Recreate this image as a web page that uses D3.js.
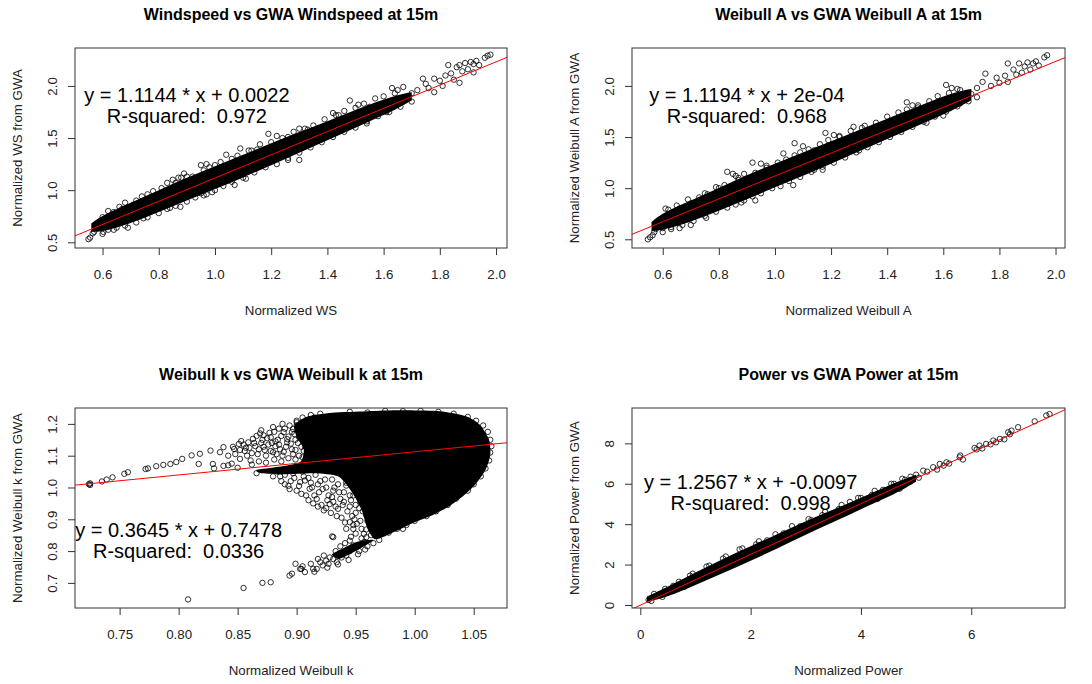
<!DOCTYPE html>
<html>
<head>
<meta charset="utf-8">
<script src="https://cdn.jsdelivr.net/npm/d3@7"></script>
<style>
  body { margin: 0; background: #fff; }
  text { font-family: "Liberation Sans", Arial, sans-serif; }
</style>
</head>
<body>
<svg id="chart" width="1092" height="684"></svg>
<script>
// ---- chart text ----
const panelTitles = [
  "Windspeed vs GWA Windspeed at 15m",
  "Weibull A vs GWA Weibull A at 15m",
  "Weibull k vs GWA Weibull k at 15m",
  "Power vs GWA Power at 15m"
];
const xLabels = ["Normalized WS", "Normalized Weibull A", "Normalized Weibull k", "Normalized Power"];
const yLabels = ["Normalized WS from GWA", "Normalized Weibull A from GWA", "Normalized Weibull k from GWA", "Normalized Power from GWA"];

// ---- fit results (lm) ----
const fitSlopes = [1.1144, 1.1194, 0.3645, 1.2567];
const fitIntercepts = [0.0022, 0.0002, 0.7478, -0.0097];
const fitEquations = ["y = 1.1144 * x + 0.0022", "y = 1.1194 * x + 2e-04", "y = 0.3645 * x + 0.7478", "y = 1.2567 * x + -0.0097"];
const fitRsq = ["R-squared:  0.972", "R-squared:  0.968", "R-squared:  0.0336", "R-squared:  0.998"];

// ---- tick values ----
const xTicks = [
  [0.6, 0.8, 1.0, 1.2, 1.4, 1.6, 1.8, 2.0],
  [0.6, 0.8, 1.0, 1.2, 1.4, 1.6, 1.8, 2.0],
  [0.75, 0.80, 0.85, 0.90, 0.95, 1.00, 1.05],
  [0, 2, 4, 6]
];
const yTicks = [
  [0.5, 1.0, 1.5, 2.0],
  [0.5, 1.0, 1.5, 2.0],
  [0.7, 0.8, 0.9, 1.0, 1.1, 1.2],
  [0, 2, 4, 6, 8]
];

// ---- dense (over-plotted) cores: [x, yLow, yHigh] ----
const wsBand = [
  [0.56, 0.60, 0.68], [0.60, 0.60, 0.76], [0.70, 0.68, 0.88], [0.80, 0.79, 1.00],
  [0.90, 0.90, 1.12], [1.00, 1.01, 1.23], [1.10, 1.12, 1.34], [1.20, 1.24, 1.45],
  [1.30, 1.36, 1.56], [1.40, 1.48, 1.66], [1.50, 1.60, 1.77], [1.60, 1.72, 1.87],
  [1.66, 1.80, 1.92], [1.70, 1.86, 1.94]
];
const waBand = [
  [0.56, 0.58, 0.67], [0.60, 0.59, 0.76], [0.70, 0.67, 0.88], [0.80, 0.78, 1.00],
  [0.90, 0.89, 1.13], [1.00, 1.01, 1.24], [1.10, 1.12, 1.35], [1.20, 1.24, 1.46],
  [1.30, 1.36, 1.57], [1.40, 1.48, 1.68], [1.50, 1.60, 1.79], [1.60, 1.72, 1.90],
  [1.66, 1.80, 1.95], [1.70, 1.86, 1.97]
];
const pwBand = [
  [0.12, 0.15, 0.42], [0.50, 0.40, 0.90], [1.00, 0.98, 1.62], [1.50, 1.58, 2.28],
  [2.00, 2.18, 2.92], [2.50, 2.82, 3.52], [3.00, 3.48, 4.15], [3.50, 4.10, 4.72],
  [4.00, 4.75, 5.30], [4.50, 5.35, 5.92], [4.85, 5.85, 6.30], [5.00, 6.10, 6.45]
];
// Weibull k core is a blob, given as outline polygons [x, y]
const wkCore = [
  [[0.898, 1.195], [0.908, 1.222], [0.930, 1.235], [0.960, 1.240], [0.988, 1.243], [1.021, 1.240],
   [1.043, 1.225], [1.055, 1.198], [1.063, 1.150], [1.064, 1.102], [1.060, 1.055], [1.051, 1.008],
   [1.040, 0.970], [1.028, 0.938], [1.015, 0.913], [1.000, 0.891], [0.986, 0.866], [0.975, 0.847],
   [0.966, 0.838], [0.960, 0.870], [0.955, 0.930], [0.946, 0.990], [0.935, 1.035], [0.915, 1.045],
   [0.890, 1.042], [0.870, 1.045], [0.866, 1.055], [0.885, 1.065], [0.903, 1.080], [0.906, 1.120],
   [0.900, 1.160]],
  [[0.965, 0.835], [0.957, 0.815], [0.945, 0.790], [0.935, 0.775], [0.930, 0.790], [0.940, 0.810], [0.952, 0.830]]
];

// ---- individual points around the cores ----
const wsPoints = [
  [0.55, 0.53], [0.556, 0.545], [0.565, 0.585], [0.57, 0.60], [0.575, 0.64], [0.58, 0.67], [0.59, 0.70],
  [0.603, 0.60], [0.62, 0.62], [0.65, 0.64], [0.69, 0.64], [0.745, 0.73], [0.60, 0.74], [0.64, 0.79],
  [0.67, 0.82], [0.71, 0.86], [0.76, 0.96], [0.83, 1.07], [0.85, 1.10], [0.87, 1.12], [0.89, 1.16],
  [0.90, 1.13], [0.95, 1.24], [0.97, 1.25], [0.98, 1.22], [1.04, 1.34], [1.09, 1.40], [1.12, 1.38],
  [1.15, 1.39], [1.17, 1.36], [1.19, 1.54], [1.22, 1.52], [1.26, 1.51], [1.30, 1.59], [1.33, 1.58],
  [1.37, 1.59], [1.42, 1.74], [1.44, 1.72], [1.48, 1.86], [1.51, 1.82], [1.55, 1.80], [1.63, 1.98],
  [1.65, 1.96], [1.67, 1.99], [0.83, 0.82], [0.877, 0.84], [0.95, 0.97], [0.97, 0.96], [0.99, 0.98],
  [1.07, 1.05], [1.11, 1.11], [1.26, 1.29], [1.30, 1.29], [1.43, 1.55], [1.54, 1.64], [1.61, 1.75],
  [1.67, 1.85], [1.70, 1.93], [1.72, 1.96], [1.74, 2.07], [1.75, 2.02], [1.76, 1.98], [1.78, 2.07],
  [1.78, 1.94], [1.80, 2.05], [1.81, 2.00], [1.82, 2.10], [1.83, 2.20], [1.84, 2.12], [1.85, 2.06],
  [1.86, 2.18], [1.87, 2.03], [1.87, 2.20], [1.88, 2.14], [1.89, 2.22], [1.90, 2.16], [1.91, 2.23],
  [1.92, 2.13], [1.92, 2.21], [1.93, 2.24], [1.94, 2.20], [1.96, 2.27], [1.97, 2.29], [1.98, 2.30],
  // upper rim
  [0.62, 0.80], [0.66, 0.84], [0.68, 0.88], [0.72, 0.90], [0.74, 0.94], [0.78, 0.99], [0.81, 1.02],
  [0.86, 1.07], [0.88, 1.12], [0.92, 1.13], [0.96, 1.19], [1.00, 1.24], [1.02, 1.27], [1.06, 1.30],
  [1.08, 1.33], [1.13, 1.38], [1.16, 1.44], [1.20, 1.46], [1.24, 1.50], [1.28, 1.56], [1.32, 1.59],
  [1.35, 1.62], [1.39, 1.68], [1.43, 1.72], [1.46, 1.76], [1.50, 1.79], [1.53, 1.83], [1.57, 1.88],
  [1.60, 1.90], [1.64, 1.93],
  // lower rim
  [0.60, 0.58], [0.64, 0.62], [0.68, 0.66], [0.72, 0.69], [0.76, 0.74], [0.80, 0.78], [0.84, 0.83],
  [0.86, 0.85], [0.90, 0.89], [0.93, 0.93], [0.96, 0.95], [1.00, 1.00], [1.03, 1.04], [1.06, 1.08],
  [1.10, 1.12], [1.14, 1.17], [1.18, 1.22], [1.22, 1.25], [1.26, 1.31], [1.30, 1.36], [1.34, 1.41],
  [1.38, 1.46], [1.42, 1.51], [1.46, 1.56], [1.50, 1.60], [1.54, 1.66], [1.58, 1.71], [1.62, 1.75],
  [1.66, 1.80], [1.70, 1.85]
];
const waPoints = [
  [0.547, 0.50], [0.555, 0.52], [0.564, 0.54], [0.57, 0.57], [0.575, 0.60], [0.58, 0.64], [0.59, 0.67],
  [0.60, 0.61], [0.63, 0.62], [0.66, 0.61], [0.70, 0.64], [0.755, 0.71], [0.62, 0.79], [0.66, 0.80],
  [0.70, 0.85], [0.76, 0.94], [0.80, 1.00], [0.83, 1.16], [0.85, 1.14], [0.87, 1.08], [0.86, 1.12],
  [0.92, 1.25], [0.95, 1.24], [0.97, 1.22], [1.03, 1.34], [1.07, 1.44], [1.10, 1.41], [1.14, 1.37],
  [1.18, 1.54], [1.21, 1.52], [1.23, 1.50], [1.28, 1.60], [1.31, 1.59], [1.35, 1.57], [1.40, 1.64],
  [1.47, 1.84], [1.49, 1.81], [1.51, 1.79], [1.61, 2.01], [1.63, 1.98], [1.66, 1.96], [0.88, 0.86],
  [0.93, 0.88], [1.065, 1.03], [1.14, 1.18], [1.17, 1.18], [1.30, 1.37], [1.49, 1.64], [1.54, 1.64],
  [1.60, 1.71], [1.66, 1.83], [1.72, 1.89], [1.70, 1.92], [1.72, 1.98], [1.74, 2.04], [1.75, 2.12],
  [1.77, 2.00], [1.79, 2.08], [1.80, 2.03], [1.82, 2.10], [1.83, 2.22], [1.83, 2.04], [1.85, 2.16],
  [1.86, 2.11], [1.87, 2.22], [1.88, 2.13], [1.89, 2.19], [1.90, 2.23], [1.91, 2.16], [1.92, 2.22],
  [1.93, 2.24], [1.94, 2.20], [1.96, 2.28], [1.97, 2.30],
  // upper rim
  [0.61, 0.80], [0.65, 0.83], [0.69, 0.89], [0.73, 0.91], [0.75, 0.95], [0.79, 1.01], [0.82, 1.03],
  [0.87, 1.10], [0.89, 1.14], [0.93, 1.15], [0.97, 1.20], [1.01, 1.25], [1.04, 1.28], [1.07, 1.32],
  [1.09, 1.35], [1.12, 1.38], [1.16, 1.43], [1.19, 1.47], [1.23, 1.51], [1.27, 1.56], [1.32, 1.61],
  [1.36, 1.64], [1.40, 1.70], [1.44, 1.74], [1.47, 1.77], [1.51, 1.81], [1.55, 1.85], [1.58, 1.90],
  [1.62, 1.93], [1.65, 1.97],
  // lower rim
  [0.60, 0.57], [0.63, 0.60], [0.67, 0.64], [0.71, 0.68], [0.75, 0.73], [0.79, 0.77], [0.83, 0.81],
  [0.86, 0.84], [0.89, 0.88], [0.92, 0.92], [0.95, 0.95], [0.99, 1.00], [1.02, 1.02], [1.05, 1.07],
  [1.09, 1.11], [1.13, 1.16], [1.17, 1.21], [1.21, 1.25], [1.25, 1.30], [1.29, 1.35], [1.33, 1.40],
  [1.37, 1.45], [1.41, 1.50], [1.45, 1.55], [1.49, 1.60], [1.53, 1.65], [1.57, 1.70], [1.61, 1.75],
  [1.65, 1.80], [1.69, 1.85]
];
const wkPoints = [
  // left trail along the fit
  [0.724, 1.010], [0.725, 1.013], [0.725, 1.008], [0.735, 1.019], [0.739, 1.025], [0.744, 1.032],
  [0.754, 1.043], [0.757, 1.048], [0.772, 1.058], [0.774, 1.060], [0.781, 1.067], [0.787, 1.071],
  [0.793, 1.074], [0.798, 1.080], [0.803, 1.090], [0.811, 1.101], [0.818, 1.106], [0.817, 1.074],
  [0.827, 1.116], [0.829, 1.074], [0.835, 1.111], [0.838, 1.127], [0.847, 1.121], [0.851, 1.137],
  [0.859, 1.142], [0.863, 1.153], [0.852, 1.090], [0.861, 1.085], [0.872, 1.164], [0.878, 1.158],
  [0.880, 1.111], [0.889, 1.174], [0.892, 1.142], [0.897, 1.184], [0.904, 1.179], [0.909, 1.195],
  [0.913, 1.190],
  // mixed area above the fit
  [0.842, 1.100], [0.845, 1.075], [0.848, 1.105], [0.856, 1.115], [0.858, 1.100], [0.865, 1.130],
  [0.868, 1.120], [0.870, 1.140], [0.874, 1.100], [0.876, 1.135], [0.882, 1.130], [0.884, 1.150],
  [0.886, 1.120], [0.888, 1.100], [0.893, 1.160], [0.896, 1.120], [0.899, 1.150], [0.902, 1.100],
  [0.905, 1.160], [0.907, 1.130], [0.911, 1.170], [0.914, 1.140], [0.918, 1.200], [0.921, 1.160],
  [0.924, 1.130], [0.926, 1.210], [0.930, 1.190], [0.933, 1.150], [0.936, 1.220], [0.870, 1.180],
  [0.880, 1.190], [0.888, 1.200], [0.900, 1.205], [0.915, 1.220],
  [0.846, 1.128], [0.853, 1.146], [0.857, 1.125], [0.862, 1.108], [0.866, 1.162], [0.871, 1.150],
  [0.873, 1.118], [0.877, 1.172], [0.879, 1.140], [0.883, 1.105], [0.885, 1.185], [0.887, 1.162],
  [0.891, 1.128], [0.894, 1.195], [0.897, 1.105], [0.898, 1.168], [0.901, 1.140], [0.903, 1.190],
  [0.906, 1.115], [0.908, 1.200], [0.910, 1.150], [0.912, 1.125], [0.916, 1.185], [0.919, 1.135],
  [0.922, 1.175], [0.924, 1.105], [0.927, 1.140], [0.929, 1.200], [0.932, 1.120], [0.934, 1.170],
  [0.937, 1.095], [0.939, 1.140], [0.941, 1.205],
  [0.852, 1.118], [0.855, 1.135], [0.860, 1.125], [0.864, 1.140], [0.867, 1.105], [0.869, 1.170],
  [0.872, 1.128], [0.875, 1.155], [0.878, 1.115], [0.881, 1.175], [0.882, 1.145], [0.885, 1.135],
  [0.889, 1.112], [0.890, 1.185], [0.892, 1.152], [0.895, 1.138], [0.896, 1.175], [0.899, 1.118],
  [0.900, 1.195], [0.902, 1.158], [0.904, 1.128], [0.906, 1.180], [0.909, 1.138], [0.911, 1.110],
  [0.913, 1.160], [0.915, 1.200], [0.917, 1.120], [0.920, 1.150], [0.923, 1.190], [0.925, 1.120],
  [0.928, 1.160], [0.931, 1.210], [0.935, 1.130], [0.938, 1.180], [0.940, 1.150], [0.943, 1.120],
  [0.946, 1.100], [0.948, 1.075],
  [0.862, 1.072], [0.868, 1.082], [0.874, 1.078], [0.881, 1.088], [0.887, 1.082], [0.893, 1.092],
  [0.899, 1.088], [0.905, 1.095], [0.911, 1.100], [0.917, 1.095],
  [0.900, 1.210], [0.905, 1.220], [0.912, 1.228], [0.920, 1.232],
  // mixed area under the fit
  [0.830, 1.060], [0.838, 1.068], [0.842, 1.070], [0.850, 1.062], [0.866, 1.045], [0.880, 1.035],
  [0.890, 1.040], [0.895, 1.020], [0.905, 1.050], [0.910, 1.030], [0.920, 1.060], [0.930, 1.070],
  [0.903, 1.017], [0.911, 0.996], [0.917, 0.964], [0.928, 0.948], [0.935, 0.933], [0.923, 0.928],
  [0.945, 0.891], [0.951, 0.886], [0.959, 0.912], [0.965, 0.954], [0.968, 0.975], [0.976, 0.943],
  [0.976, 0.964], [0.931, 0.990], [0.942, 1.006], [0.948, 0.975], [0.954, 0.954], [0.937, 0.964],
  [0.962, 0.880], [0.957, 0.854], [0.942, 0.870], [0.918, 1.010], [0.925, 1.000], [0.935, 1.010],
  [0.945, 0.940], [0.950, 0.920], [0.940, 0.955], [0.930, 0.970], [0.960, 0.990], [0.970, 0.920],
  [0.980, 0.900], [0.985, 0.880], [0.990, 0.870],
  [0.884, 1.050], [0.887, 1.020], [0.893, 1.005], [0.897, 1.045], [0.900, 0.990], [0.906, 1.035],
  [0.908, 0.975], [0.912, 1.015], [0.914, 0.950], [0.916, 1.040], [0.919, 0.985], [0.921, 0.945],
  [0.924, 1.025], [0.926, 0.960], [0.929, 0.920], [0.932, 1.000], [0.933, 0.940], [0.936, 1.045],
  [0.938, 0.905], [0.940, 0.985], [0.943, 0.925], [0.944, 1.030], [0.946, 0.960], [0.949, 0.900],
  [0.951, 1.000], [0.953, 0.935], [0.955, 0.870], [0.957, 0.975], [0.960, 0.895], [0.962, 0.945],
  [0.966, 0.905], [0.969, 0.870], [0.972, 0.890], [0.975, 0.862],
  [0.886, 1.035], [0.890, 1.010], [0.894, 0.995], [0.898, 1.030], [0.902, 1.005], [0.904, 0.980],
  [0.907, 1.022], [0.910, 0.960], [0.913, 1.000], [0.915, 0.975], [0.918, 0.940], [0.920, 1.020],
  [0.922, 0.995], [0.925, 0.935], [0.927, 0.975], [0.930, 1.025], [0.931, 0.955], [0.934, 0.910],
  [0.936, 0.985], [0.939, 0.945], [0.941, 0.890], [0.942, 1.015], [0.945, 0.975], [0.947, 0.910],
  [0.948, 0.870], [0.950, 0.945], [0.952, 0.980], [0.954, 0.895], [0.956, 0.925], [0.958, 1.000],
  [0.959, 0.868], [0.961, 0.960], [0.963, 0.905], [0.964, 0.930], [0.967, 0.885], [0.970, 0.905],
  [0.973, 0.878], [0.978, 0.880],
  // lower arm
  [0.930, 0.846], [0.945, 0.833], [0.948, 0.818], [0.940, 0.797], [0.931, 0.775], [0.923, 0.786],
  [0.920, 0.765], [0.914, 0.744], [0.907, 0.734], [0.903, 0.744], [0.899, 0.760], [0.894, 0.723],
  [0.896, 0.729], [0.904, 0.744], [0.927, 0.760], [0.934, 0.765], [0.942, 0.786], [0.951, 0.812],
  [0.957, 0.828], [0.959, 0.844], [0.917, 0.744], [0.931, 0.844], [0.948, 0.882], [0.953, 0.800],
  [0.960, 0.815], [0.965, 0.825], [0.970, 0.835], [0.938, 0.780], [0.945, 0.800], [0.936, 0.790],
  [0.925, 0.770],
  [0.905, 0.752], [0.912, 0.760], [0.918, 0.775], [0.922, 0.755], [0.928, 0.780], [0.933, 0.800],
  [0.937, 0.815], [0.941, 0.825], [0.946, 0.845], [0.950, 0.855], [0.955, 0.840], [0.963, 0.850],
  [0.968, 0.858], [0.915, 0.735], [0.926, 0.748], [0.935, 0.758], [0.944, 0.772], [0.952, 0.790],
  [0.958, 0.805],
  // isolated low points
  [0.878, 0.702], [0.871, 0.700], [0.855, 0.684], [0.808, 0.648],
  // blob rim
  [0.930, 1.222], [0.960, 1.236], [0.990, 1.240], [1.020, 1.238], [1.045, 1.222], [1.058, 1.195],
  [1.064, 1.150], [1.064, 1.110], [1.060, 1.060], [1.050, 1.010], [1.035, 0.965], [1.018, 0.925],
  [1.000, 0.895], [0.985, 0.870], [0.970, 0.850],
  [0.945, 1.238], [0.975, 1.241], [1.005, 1.241], [1.033, 1.232], [1.052, 1.210], [1.062, 1.175],
  [1.065, 1.130], [1.063, 1.085], [1.056, 1.035], [1.045, 0.990], [1.028, 0.945], [1.010, 0.910],
  [0.993, 0.882], [0.978, 0.858]
];
const pwPoints = [
  [0.15, 0.25], [0.20, 0.20], [0.30, 0.45], [0.60, 0.95], [0.90, 1.45], [1.20, 1.90], [1.50, 2.30],
  [1.80, 2.75], [2.10, 3.00], [2.30, 3.20], [2.60, 3.55], [2.90, 3.90], [3.10, 4.20], [3.30, 4.45],
  [3.60, 4.75], [3.80, 5.10], [4.00, 5.30], [4.20, 5.45], [4.40, 5.70], [4.60, 6.00], [4.80, 6.20],
  [4.90, 6.35], [5.00, 6.45], [5.05, 6.30], [5.13, 6.65], [5.20, 6.60], [5.31, 6.82], [5.38, 6.70],
  [5.43, 6.98], [5.50, 6.90], [5.55, 7.06], [5.60, 7.00], [5.79, 7.31], [5.80, 7.40], [5.85, 7.20],
  [6.06, 7.77], [6.10, 7.70], [6.15, 7.89], [6.20, 7.75], [6.27, 7.97], [6.35, 7.95], [6.40, 8.14],
  [6.45, 8.05], [6.52, 8.22], [6.60, 8.20], [6.67, 8.55], [6.70, 8.45], [6.73, 8.63], [6.85, 8.80],
  [7.15, 9.09], [7.36, 9.38], [7.42, 9.45],
  // band rim
  [0.25, 0.55], [0.45, 0.80], [0.70, 1.15], [0.95, 1.55], [1.25, 1.95], [1.55, 2.40], [1.85, 2.80],
  [2.15, 3.15], [2.45, 3.50], [2.75, 3.90], [3.05, 4.25], [3.35, 4.60], [3.65, 4.95], [3.95, 5.30],
  [4.25, 5.65], [4.55, 6.00], [4.75, 6.25], [0.40, 0.40], [0.80, 0.90], [1.30, 1.55], [1.80, 2.15],
  [2.30, 2.80], [2.80, 3.40], [3.30, 4.05], [3.80, 4.65], [4.30, 5.25], [4.70, 5.75]
];

// ---- layout of the 2x2 grid (plot box in px, axis ranges as R padded them) ----
const layout = [
  {left: 75, right: 507, top: 48, bottom: 248, xDomain: [0.502, 2.039], yDomain: [0.445, 2.364], fmtX: ".1f", fmtY: ".1f", textAt: [0.9, 1.8]},
  {left: 632, right: 1065, top: 48, bottom: 248, xDomain: [0.4905, 2.0337], yDomain: [0.415, 2.371], fmtX: ".1f", fmtY: ".1f", textAt: [0.9, 1.8]},
  {left: 75, right: 507, top: 408, bottom: 608, xDomain: [0.7122, 1.0782], yDomain: [0.621, 1.250], fmtX: ".2f", fmtY: ".1f", textAt: [0.8, 0.83]},
  {left: 632, right: 1065, top: 408, bottom: 608, xDomain: [-0.151, 7.70], yDomain: [-0.149, 9.75], fmtX: "d", fmtY: "d", textAt: [2, 5.5]}
];

const bands = [wsBand, waBand, null, pwBand];
const blobs = [null, null, wkCore, null];
const points = [wsPoints, waPoints, wkPoints, pwPoints];

const svg = d3.select("#chart");
svg.append("rect").attr("width", 1092).attr("height", 684).attr("fill", "#fff");

layout.forEach((p, i) => {
  const g = svg.append("g");
  const x = d3.scaleLinear().domain(p.xDomain).range([p.left, p.right]);
  const y = d3.scaleLinear().domain(p.yDomain).range([p.bottom, p.top]);

  const clipId = "clip" + i;
  svg.append("clipPath").attr("id", clipId)
    .append("rect")
    .attr("x", p.left).attr("y", p.top)
    .attr("width", p.right - p.left).attr("height", p.bottom - p.top);

  const plot = g.append("g").attr("clip-path", `url(#${clipId})`);

  // dense core
  if (bands[i]) {
    plot.append("path")
      .datum(bands[i])
      .attr("fill", "#000")
      .attr("d", d3.area()
        .x(d => x(d[0])).y0(d => y(d[1])).y1(d => y(d[2]))
        .curve(d3.curveBasis));
  }
  if (blobs[i]) {
    plot.selectAll(".blob")
      .data(blobs[i])
      .join("path")
      .attr("class", "blob")
      .attr("fill", "#000")
      .attr("d", d3.line().x(d => x(d[0])).y(d => y(d[1])).curve(d3.curveCardinalClosed.tension(0.3)));
  }

  // points (pch = 1)
  plot.selectAll(".pt")
    .data(points[i])
    .join("circle")
    .attr("class", "pt")
    .attr("cx", d => x(d[0]))
    .attr("cy", d => y(d[1]))
    .attr("r", 2.7)
    .attr("fill", "none")
    .attr("stroke", "#000")
    .attr("stroke-width", 1)
    .attr("stroke-opacity", 0.8);

  // abline
  const xs = p.xDomain;
  plot.append("line")
    .attr("x1", x(xs[0])).attr("y1", y(fitSlopes[i] * xs[0] + fitIntercepts[i]))
    .attr("x2", x(xs[1])).attr("y2", y(fitSlopes[i] * xs[1] + fitIntercepts[i]))
    .attr("stroke", "#ff0000")
    .attr("stroke-width", 1);

  // box
  g.append("rect")
    .attr("x", p.left).attr("y", p.top)
    .attr("width", p.right - p.left).attr("height", p.bottom - p.top)
    .attr("fill", "none").attr("stroke", "#333").attr("stroke-width", 1);

  // axes
  const xAxisG = g.append("g")
    .attr("transform", `translate(0,${p.bottom})`)
    .call(d3.axisBottom(x).tickValues(xTicks[i]).tickSize(7).tickFormat(d3.format(p.fmtX)));
  xAxisG.select(".domain").remove();
  xAxisG.selectAll("line").attr("stroke", "#333");
  xAxisG.selectAll("text")
    .attr("y", 22)
    .attr("font-size", "13.3px")
    .attr("font-family", "'Liberation Sans', Arial, sans-serif")
    .attr("fill", "#222");

  const yAxisG = g.append("g")
    .attr("transform", `translate(${p.left},0)`)
    .call(d3.axisLeft(y).tickValues(yTicks[i]).tickSize(7).tickFormat(d3.format(p.fmtY)));
  yAxisG.select(".domain").remove();
  yAxisG.selectAll("line").attr("stroke", "#333");
  yAxisG.selectAll("text")
    .attr("transform", "rotate(-90)")
    .attr("x", 0)
    .attr("y", -18)
    .attr("dy", null)
    .attr("text-anchor", "middle")
    .attr("font-size", "13.3px")
    .attr("font-family", "'Liberation Sans', Arial, sans-serif")
    .attr("fill", "#222");

  // title and axis labels
  const cx = (p.left + p.right) / 2;
  const cy = (p.top + p.bottom) / 2;
  g.append("text")
    .attr("x", cx).attr("y", p.top - 28.5)
    .attr("text-anchor", "middle")
    .attr("font-size", "16px").attr("font-weight", "bold")
    .attr("fill", "#000")
    .text(panelTitles[i]);
  g.append("text")
    .attr("x", cx).attr("y", p.bottom + 67)
    .attr("text-anchor", "middle")
    .attr("font-size", "13.3px").attr("fill", "#222")
    .text(xLabels[i]);
  g.append("text")
    .attr("transform", `translate(${p.left - 53},${cy}) rotate(-90)`)
    .attr("text-anchor", "middle")
    .attr("font-size", "13.3px").attr("fill", "#222")
    .text(yLabels[i]);

  // fit annotation
  const tx = x(p.textAt[0]);
  const ty = y(p.textAt[1]);
  g.append("text")
    .attr("x", tx).attr("y", ty - 4.5)
    .attr("text-anchor", "middle")
    .attr("font-size", "20px").attr("fill", "#000")
    .style("white-space", "pre")
    .text(fitEquations[i]);
  g.append("text")
    .attr("x", tx).attr("y", ty + 16.5)
    .attr("text-anchor", "middle")
    .attr("font-size", "20px").attr("fill", "#000")
    .style("white-space", "pre")
    .text(fitRsq[i]);
});
</script>
</body>
</html>
